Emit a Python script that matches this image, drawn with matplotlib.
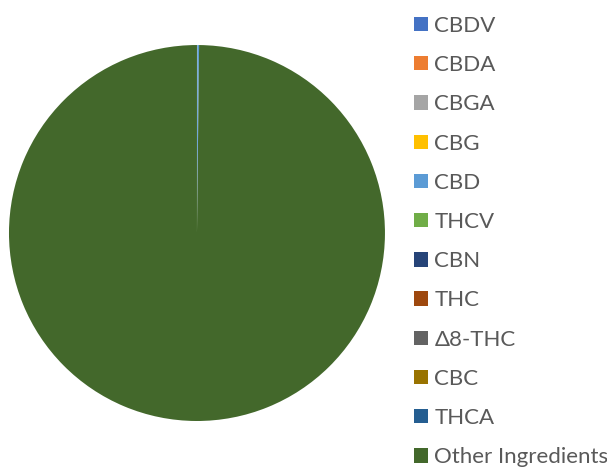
import matplotlib.pyplot as plt

## Data
labels = ["CBDV", "CBDA", "CBGA", "CBG", "CBD", "THCV", "CBN", "THC",
          "Δ8-THC", "CBC", "THCA", "Other Ingredients"]
values = [0.0, 0.0, 0.03, 0.0, 0.15, 0.0, 0.0, 0.0, 0.0, 0.0, 0.0, 99.82]
COLORS = ["#4472C4", "#ED7D31", "#A5A5A5", "#FFC000", "#5B9BD5", "#70AD47",
          "#264478", "#9E480E", "#636363", "#997300", "#255E91", "#43682B"]

plt.rcParams["font.family"] = ["Lato", "DejaVu Sans"]

fig = plt.figure(figsize=(6.07, 4.67), dpi=100)
ax = fig.add_axes([0.0148, 0.0985, 0.6194, 0.8051])
wedges, _ = ax.pie(values, colors=COLORS, startangle=90, counterclock=False,
                   radius=1.0)
ax.set_xlim(-1, 1)
ax.set_ylim(-1, 1)
ax.set_aspect("equal")

leg = fig.legend(wedges, labels, loc="upper left", bbox_to_anchor=(0.668, 0.985),
                 frameon=False, fontsize=16, handlelength=0.62, handleheight=0.62,
                 handletextpad=0.28, labelspacing=0.865, borderaxespad=0.0)
for t in leg.get_texts():
    t.set_color("#595959")

fig.savefig("out.png", dpi=100)
